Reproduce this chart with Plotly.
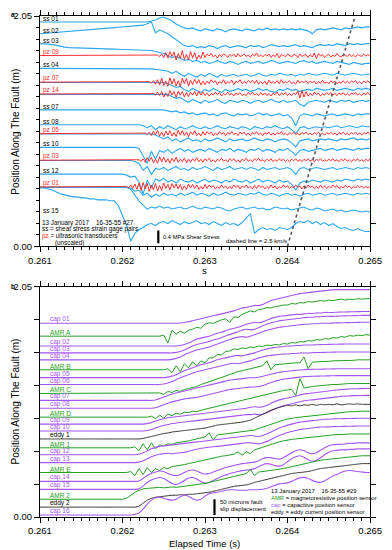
import numpy as np
import plotly.graph_objects as go

# ---------------- sampling clocks (ms) ----------------
T_SLOW_MS = np.linspace(261.0, 265.0, 81)    # 0.05 ms samples
T_FAST_MS = np.linspace(261.0, 265.0, 161)   # 0.025 ms samples (piezo)

UNIT_M = 0.0088          # plot metres per signal unit
MPA_PER_UNIT = 0.4 / 13  # shear-stress scale (panel a): 0.4 MPa bar = 13 units
UM_PER_UNIT = 50 / 16    # slip scale (panel b): 50 microns bar = 16 units
SS_BAR_MPA = 0.4
SLIP_BAR_UM = 50
WAVE_SPEED_KM_S = 2.5
WAVE_T0_S = 0.264

# ---------------- panel a : sensor positions (m) ----------------
SS_POS_M = {"ss 01": 1.997, "ss 02": 1.892, "ss 03": 1.804, "ss 04": 1.584,
            "ss 05": 1.458, "ss 06": 1.352, "ss 07": 1.214, "ss 08": 1.082,
            "ss 09": 1.000, "ss 10": 0.880, "ss 11": 0.763, "ss 12": 0.642,
            "ss 13": 0.525, "ss 14": 0.525, "ss 15": 0.519}
PZ_POS_M = {"pz 09": 1.698, "pz 07": 1.461, "pz 14": 1.355,
            "pz 05": 1.003, "pz 03": 0.766, "pz 01": 0.528}

# shear stress signals (units), 0.05 ms samples
SS01 = [0,0,0,0,0,0,0,0,0,0,
        0,0,0,0,0,0,0,0,0,0,
        0,0,0,0,0,0,0,1,2,4,
        5,3,1,-2,-4,-6,-7,-6,-8,-9,
        -7,-8,-9,-7,-8,-10,-8,-7,-8,-9,
        -7,-8,-9,-7,-8,-6,-8,-7,-8,-7,
        -8,-7,-8,-7,-8,-9,-12,-8,-7,-8,
        -7,-6,-7,-8,-6,-7,-6,-5,-6,-5,
        -5]
SS02 = [0,0.3,0.7,1,1.4,1.7,2,2.4,2.8,3.1,
        3.5,3.8,4.2,4.5,4.8,5.2,5.5,5.9,6.2,6.6,
        6.9,7.3,7.6,8,8.3,8.7,10,12,1,4,
        2,0,-3,-6,-9,-12,-13,-12,-14,-13,
        -14,-12,-13,-15,-13,-12,-14,-13,-12,-13,
        -14,-12,-13,-12,-14,-13,-11,-12,-13,-12,
        -13,-12,-11,-13,-12,-13,-14,-12,-11,-12,
        -11,-12,-10,-11,-12,-10,-11,-10,-11,-10,
        -10]
SS03 = [0,0,-0.5,-1,-2,-3,-3.5,-4,-4.2,-4.5,
        -4.6,-4.8,-5,-5,-5.2,-5.3,-5.5,-5.5,-5.6,-5.7,
        -5.8,-6,-6,-6.2,-6.3,-6.5,-6.6,-7,-8,-9,
        -10,-12,-14,-13,-15,-17,-16,-18,-17,-19,
        -18,-20,-19,-17,-19,-20,-18,-19,-21,-19,
        -18,-20,-19,-18,-20,-19,-17,-18,-20,-19,
        -18,-19,-20,-18,-17,-19,-18,-20,-19,-18,
        -19,-20,-18,-19,-20,-21,-19,-20,-21,-20,
        -20]
SS04 = [0,0,0,0,0,0,0,0,0,0,
        0,0,0,0,0,0,0,0,0,0,
        0,0,0,0,0,0,0,-0.5,-1,-1.5,
        -2,-3,-5,-3,-6,-8,-5,-7,-9,-6,
        -8,-5,-7,-9,-6,-8,-7,-6,-8,-7,
        -6,-8,-7,-5,-7,-8,-6,-7,-5,-6,
        -7,-6,-8,-6,-7,-5,-6,-7,-6,-5,
        -6,-7,-5,-6,-7,-6,-5,-6,-7,-6,
        -6]
SS05 = [0,0,0,0,0,0,0,0,0,0,
        0,0,0,0,0,0,0,0,0,0,
        0,0,0,0,0,0,0,0,0,0,
        0,-1,-3,-5,-4,-7,-9,-6,-8,-10,
        -7,-9,-6,-8,-10,-7,-9,-8,-6,-8,
        -7,-9,-8,-6,-8,-7,-9,-10,-7,-8,
        -6,-8,-7,-9,-8,-7,-8,-6,-7,-8,
        -7,-6,-8,-7,-6,-7,-8,-6,-7,-6,
        -7]
SS06 = [0,0,0,0,0,0,0,0,0,0,
        0,0,0,0,0,0,0,0,0,0,
        0,0,0,0,0,0,0,0,0,0,
        0,0,-2,-4,-3,-6,-8,-5,-7,-9,
        -6,-8,-7,-5,-8,-9,-6,-7,-8,-6,
        -7,-9,-7,-6,-8,-7,-5,-7,-8,-6,
        -8,-7,-6,-10,-12,-8,-7,-6,-7,-8,
        -6,-7,-8,-6,-7,-6,-8,-7,-6,-7,
        -6]
SS07 = [0,0,0,0,0,0,0,0,0,0,
        0,0,0,0,0,0,0,0,0,0,
        0,0,0,0,0,0,0,0,0,0,
        0,-1,-2,-1,-3,-2,-4,-3,-5,-4,
        -3,-5,-4,-6,-4,-3,-5,-6,-4,-5,
        -4,-6,-5,-3,-5,-4,-6,-5,-4,-6,
        -5,-8,-16,-6,-4,-5,-6,-4,-5,-6,
        -5,-4,-6,-5,-4,-5,-6,-4,-5,-4,
        -4]
SS08 = [0,0,0,0,0,0,0,0,0,0,
        0,0,0,0,0,0,0,0,0,0,
        0,0,0,0,0,-1,-3,-1,-5,-2,
        -4,-1,-3,-5,-2,-4,-3,-1,-3,-4,
        -2,-4,-3,-1,-3,-4,-2,-3,-4,-2,
        -3,-5,-2,-3,-4,-2,-3,-1,-3,-4,
        -2,-5,-9,-3,-2,-4,-3,-2,-3,-2,
        -3,-2,-1,-3,-2,-1,-2,-3,-1,-2,
        -2]
SS09 = [0,0,0,0,0,0,0,0,0,0,
        0,0,0,0,0,0,0,0,0,0,
        0,0,0,0,0,0,0,0,-1,-3,
        -5,-3,-7,-5,-8,-6,-4,-7,-6,-8,
        -5,-7,-6,-4,-6,-8,-5,-7,-6,-5,
        -7,-6,-4,-6,-7,-5,-6,-8,-6,-5,
        -6,-9,-13,-7,-6,-5,-7,-6,-5,-6,
        -5,-6,-7,-5,-6,-5,-4,-6,-5,-6,
        -5]
SS10 = [0,0,0,0,0,0,0,0,0,0,
        0,0,0,0,0,0,0,0,0,0,
        0,0,0,0,-1,-8,-16,-4,-12,-3,
        -5,-2,-6,-3,-1,-4,-2,-5,-3,-2,
        -4,-1,-3,-5,-2,-3,-1,-4,-2,-3,
        -5,-2,-3,-1,-4,-2,-3,-5,-2,-3,
        -1,-4,-8,-3,-2,-4,-3,-2,-1,-3,
        -2,-1,-3,-2,-1,-2,-3,-1,-2,-1,
        -1]
SS11 = [0,0,0,0,0,0,0,0,0,0,
        0,0,0,0,0,0,0,0,0,0,
        0,0,0,-1,-3,-10,-6,-14,-8,-9,
        -7,-10,-8,-6,-9,-8,-10,-7,-9,-8,
        -6,-8,-10,-7,-9,-8,-6,-9,-8,-7,
        -9,-7,-8,-10,-7,-9,-8,-7,-9,-8,
        -7,-9,-14,-8,-7,-9,-8,-7,-8,-9,
        -8,-7,-9,-8,-7,-8,-9,-7,-8,-7,
        -8]
SS12 = [0,0,0,0,0,0,0,0,0,0,
        0,0,0,0,0,0,0,0,0,0,
        0,-1,-3,-2,-8,-20,-6,-14,-5,-7,
        -4,-8,-6,-9,-5,-7,-8,-6,-9,-7,
        -5,-8,-6,-7,-9,-6,-8,-5,-7,-8,
        -6,-9,-7,-5,-8,-6,-7,-9,-6,-8,
        -7,-10,-16,-9,-7,-8,-6,-7,-8,-6,
        -7,-8,-6,-7,-5,-6,-7,-5,-6,-5,
        -6]
SS13 = [0,0,0,0,0,0,0,0,0,0,
        0,0,0,0,0,0,0,0,0,0,
        0,0,-1,-4,-3,-8,-6,-10,-7,-9,
        -6,-8,-7,-9,-6,-8,-7,-5,-8,-6,
        -7,-9,-6,-8,-7,-5,-7,-8,-6,-7,
        -8,-6,-7,-5,-7,-8,-6,-7,-9,-7,
        -6,-8,-7,-9,-7,-6,-8,-7,-6,-8,
        -7,-6,-8,-7,-6,-7,-8,-6,-7,-6,
        -7]
SS14 = [0,0,0,0,0,0,0,0,0,0,
        0,0,0,0,0,0,0,0,0,0,
        0,0,-2,-8,-14,-18,-22,-20,-21,-19,
        -21,-20,-22,-21,-20,-22,-21,-19,-21,-22,
        -20,-21,-22,-20,-21,-23,-24,-22,-21,-20,
        -22,-21,-20,-22,-21,-23,-22,-20,-21,-22,
        -21,-23,-22,-21,-20,-22,-23,-21,-22,-24,
        -23,-22,-24,-23,-25,-24,-23,-24,-25,-24,
        -25]
SS15 = [0,0,-1,-2,-4,-6,-7,-8,-9,-9,
        -10,-10,-11,-11,-12,-12,-12,-13,-13,-18,
        -28,-38,-54,-46,-42,-40,-37,-36,-38,-35,
        -34,-36,-33,-35,-37,-34,-36,-35,-33,-36,
        -35,-37,-34,-36,-38,-35,-37,-36,-38,-35,
        -30,-26,-46,-42,-40,-42,-41,-43,-40,-41,
        -42,-40,-36,-34,-35,-33,-36,-34,-37,-35,
        -38,-36,-39,-41,-40,-42,-43,-41,-43,-44,
        -44]

# piezo signals (unscaled units), 0.025 ms samples
PZ09 = [0,0,0,0,0,0,0,0,0,0, 0,0,0,0,0,0,0,0,0,0, 0,0,0,0,0,0,0,0,0,0,
        0,0,0,0,0,0,0,0,0,0, 0,0,0,0,0,0,0,0,0,0,
        0,0,0,0,0,0,0,0.5,-1,1.5,
        -2,3,-2.5,4,-1,3.5,-4.5,2,-3,5,
        -4,1,-4.5,4,-2.5,3,-4,0.5,-3,3.5,
        -2,1.5,-0.5,2,-1.5,0.5,-2.5,1,-1,1.5,
        0.5,-2,1,-0.5,1.5,-1.5,2,-1,0,1.5,
        -1,0.5,-2,1.5,-0.5,2.5,-1,0.5,-1.5,1,
        -0.5,1.5,-2,0.5,-1,2,-2.5,1,0,-1,
        1.5,-0.5,-1.5,1,0.5,-2,1.5,-1,0.5,1,
        -2,1,-1.5,2.5,-3,2,-0.5,1,-2,0.5,
        1,-1.5,0.5,-1,2,-0.5,-1.5,1,0.5,-1,
        1.5,-1,0.5,-1.5,1,0,-1,1.5,-0.5,1,
        -0.5]
PZ07 = [0,0,0,0,0,0,0,0,0,0, 0,0,0,0,0,0,0,0,0,0, 0,0,0,0,0,0,0,0,0,0,
        0,0,0,0,0,0,0,0,0,0, 0,0,0,0,0,0,0,0,0,0,
        0,0,0,0.5,-1,1.5,-2,2.5,-3,4,
        -3.5,1,-4,4.5,-2,3.5,-4,1.5,-4.5,4,
        -1.5,3.5,-4,2,-2.5,3,-1.5,2.5,-3,1,
        -2.5,1,-1.5,2.5,-0.5,1.5,-2.5,0.5,-1,2.5,
        -2,0.5,-1,2,-2.5,1,-0.5,2.5,-1.5,0.5,
        -1,1.5,-0.5,2,-1.5,2,-2,0.5,-1.5,1,
        -2.5,2,-1,0.5,-1,1.5,-1.5,2.5,-1,0.5,
        -0.5,1.5,-1.5,0,-2,2,-1,1,-0.5,1.5,
        -1.5,1,-0.5,1,-2,0.5,-1,2,-1,0,
        -1.5,1.5,-0.5,1,-1.5,0.5,-1,1.5,-1,1,
        -1,1,0,1.5,-1.5,0.5,-1.5,1,-0.5,1.5,
        -1]
PZ14 = [0,0,0,0,0,0,0,0,0,0, 0,0,0,0,0,0,0,0,0,0, 0,0,0,0,0,0,0,0,0,0,
        0,0,0,0,0,0,0,0,0,0, 0,0,0,0,0,0,0,0,0,0,
        0,0,0,0,0,0.5,-1,2,-1.5,2.5,
        -3,1,-2.5,3.5,-1,2.5,-3.5,3,-1,2.5,
        -3,1.5,-2.5,2,-1,2.5,-2,3,-1,2,
        -1.5,1,-2,0.5,-1,2,-0.5,1.5,-2,0.5,
        -1,2,-1,0.5,-2,1,-0.5,1.5,-1.5,0,
        -1.5,1.5,-0.5,2,-1,0.5,-1.5,1.5,-1,1,
        -1.5,0.5,-2,1,-0.5,2,-1.5,1,-0.5,1.5,
        -1.5,0.5,-1.5,1,-0.5,3,-4,3.5,-3,2.5,
        -2,1,-1.5,2,-0.5,1,-2,0.5,-1,1.5,
        -0.5,1.5,-1,0.5,-1.5,1,-0.5,1.5,-1,0.5,
        -1.5,1,-0.5,1.5,-1,0.5,-1.5,1,-0.5,1.5,
        -1]
PZ05 = [0,0,0,0,0,0,0,0,0,0, 0,0,0,0,0,0,0,0,0,0, 0,0,0,0,0,0,0,0,0,0,
        0,0,0,0,0,0,0,0,0,0, 0,0,0,0,0,0,0,0,0,0,
        0,0.5,-1,1.5,-2,2.5,-1,3,-2.5,1.5,
        -3,2.5,-1.5,3,-2.5,1,-3,3.5,-1.5,3,
        -2,1.5,-3,2,-1,3,-2,0.5,-2.5,2,
        -1.5,2,-0.5,1.5,-2,0.5,-1.5,2,-0.5,1,
        -2,1,-0.5,2,-1,0.5,-2,1.5,-0.5,1.5,
        -1.5,0.5,-2,1,-0.5,2,-1,0.5,-2,1,
        -0.5,1.5,-1.5,0.5,-1.5,1,-0.5,2,-1,0.5,
        -1.5,1,-0.5,1.5,-1,0.5,-1.5,1,-0.5,1.5,
        -1,0.5,-1.5,1,-0.5,1.5,-1,0.5,-1.5,1,
        -0.5,1.5,-1,0.5,-1.5,1,-0.5,1.5,-1,0.5,
        -1.5,1,-0.5,1.5,-1,0.5,-1.5,1,-0.5,1.5,
        -1]
PZ03 = [0,0,0,0,0,0,0,0,0,0, 0,0,0,0,0,0,0,0,0,0, 0,0,0,0,0,0,0,0,0,0,
        0,0,0,0,0,0,0,0,0,0,
        0,0,0,0,0,0,0,0,0.5,-1,
        1.5,-2,2.5,-1,3,-2.5,1,-3,3.5,-1.5,
        3,-2,1.5,-3,2,-1.5,3,-2,1,-1.5,
        2,-2.5,1,-2,1.5,-1,2.5,-1.5,1,-2,
        1.5,-0.5,2,-1.5,0.5,-2,1,-0.5,2,-1,
        0.5,-2,1.5,-0.5,1.5,-1.5,0.5,-2,1,-0.5,
        2,-1,0.5,-1.5,1.5,-0.5,2,-1,0.5,-1.5,
        1,-0.5,1.5,-1.5,0.5,-1,1.5,-0.5,1,-1.5,
        0.5,-1.5,1,-0.5,1.5,-1,0.5,-1.5,1,-0.5,
        1.5,-1,0.5,-1.5,1,-0.5,1.5,-1,0.5,-1,
        1,-0.5,1.5,-1,0.5,-1.5,1,-0.5,1.5,-1,
        0.5,-1.5,1,-0.5,1.5,-1,0.5,-1.5,1,-0.5,
        1]
PZ01 = [0,0,0,0,0,0,0,0,0,0, 0,0,0,0,0,0,0,0,0,0, 0,0,0,0,0,0,0,0,0,0,
        0,0,0,0,0,0,0,0,0,0,
        0,0,0.5,-1,2,-1.5,3,-2.5,4,-3.5,
        4.5,-2,3.5,-4.5,2,-3,3.5,-4,1.5,-3.5,
        4,-1.5,2.5,-3,3.5,-1,3,-2,2.5,-3,
        1,-2.5,3,-1,2.5,-1.5,2,-2.5,0.5,-2,
        2.5,-1.5,2,-0.5,1.5,-2,0.5,-1.5,2,-1,
        1,-2,0.5,-1.5,2,-0.5,1.5,-2,1,-0.5,
        2,-1,0.5,-2,1.5,-1.5,2,-0.5,1,-2,
        0.5,-1.5,2,-1,1,-2,0.5,-1,2,-0.5,
        1.5,-1.5,0.5,-1,2,-0.5,1,-2,1,-1,
        2,-0.5,1,-1.5,0.5,-1.5,2,-1,1,-1.5,
        0.5,-1,2,-0.5,1.5,-1.5,0.5,-1,1.5,-0.5,
        1,-1.5,0.5,-1,1.5,-0.5,1,-1.5,0.5,-1,
        0.5]

SS_SERIES = {"ss 01": SS01, "ss 02": SS02, "ss 03": SS03, "ss 04": SS04, "ss 05": SS05,
             "ss 06": SS06, "ss 07": SS07, "ss 08": SS08, "ss 09": SS09, "ss 10": SS10,
             "ss 11": SS11, "ss 12": SS12, "ss 13": SS13, "ss 14": SS14, "ss 15": SS15}
PZ_SERIES = {"pz 09": PZ09, "pz 07": PZ07, "pz 14": PZ14, "pz 05": PZ05, "pz 03": PZ03, "pz 01": PZ01}
A_LABELS = ["ss 01", "ss 02", "ss 03", "pz 09", "ss 04", "pz 07", "pz 14", "ss 07",
            "ss 08", "pz 05", "ss 10", "pz 03", "ss 12", "pz 01"]
SS15_LABEL_M = 0.28

# ---------------- panel b : sensor positions (m) ----------------
B_POS_M = {"cap 01": 1.725, "AMR A": 1.610, "cap 02": 1.522, "cap 03": 1.461, "cap 04": 1.399,
           "AMR B": 1.311, "cap 05": 1.241, "cap 06": 1.179, "AMR C": 1.100, "cap 07": 1.038,
           "cap 08": 0.968, "AMR D": 0.889, "cap 09": 0.827, "cap 10": 0.766, "eddy 1": 0.695,
           "AMR 1": 0.616, "cap 12": 0.554, "cap 13": 0.484, "AMR E": 0.396, "cap 14": 0.317,
           "cap 15": 0.246, "AMR 2": 0.158, "eddy 2": 0.088, "cap 16": 0.018}

# slip displacement signals (units), 0.05 ms samples
CAP01 = [0,0,0,0,0,0,0,0,0,0, 0,0,0,0,0,0,0,0,0,0, 0,0,0,0,0,0,0,0,0,0,
         0,0,0,0,0.3,0.8,1.5,2.5,3.5,4.5,
         5.5,6.5,7.5,8.5,9.5,10.5,11.5,12.5,14,15.5,
         16,17,18,18,19,21,23,24,25,26,
         27,28,29,30,30.5,31,31.5,32,32.5,33,
         33.5,33.8,34,34,34,34,34,34,34,34,
         34]
AMRA = [0,0,0,0,0,0,0,0,0,0, 0,0,0,0,0,0,0,0,0,0, 0,0,0,0,0,0,0,0,0,0,
        1,-7,6,2,5,3,6,7,9,8,
        12,13.5,13,15,16.5,17.5,14,19.5,19,22,
        24,25.5,24.5,27,27.5,29,28.5,30,30.5,31.5,
        31.5,33,32.5,34,33.5,35,34.5,35.5,36,35.5,
        36.5,36,37,37.5,36.5,37.5,37,38,37.5,38,
        38]
CAP02 = [0,0,0,0,0,0,0,0,0,0, 0,0,0,0,0,0,0,0,0,0, 0,0,0,0,0,0,0,0,0,0,
         0,0,0,0,0.5,1.5,3,5,7,8,
         9,10,11.5,13,14,15.5,17,18,19,20.5,
         22,23,24,23.5,24.5,26,28,29,30,30.5,
         31,31.5,32,32,32.5,33,33,33.5,33.5,34,
         34,34,34.2,34.4,34.5,34.6,34.7,34.8,34.9,35,
         35]
CAP03 = [0,0,0,0,0,0,0,0,0,0, 0,0,0,0,0,0,0,0,0,0, 0,0,0,0,0,0,0,0,0,0,
         0,0,0,0.5,1.5,3,5,7,8.5,9.5,
         10.5,11.5,13,14,15.5,17,18.5,20,21.5,23,
         24,23.5,24,25.5,27.5,29,30.5,31.5,32.5,33,
         33.5,34,34.5,35,35.5,36,36,36.5,36.5,37,
         37,37,37.2,37.4,37.5,37.6,37.7,37.8,37.9,38,
         38]
CAP04 = [0,0,0,0,0,0,0,0,0,0, 0,0,0,0,0,0,0,0,0,0, 0,0,0,0,0,0,0,0,0,0,
         0,0,0.5,1.5,3,5,7,8.5,10,11,
         12,13,14.5,16,17.5,19,20.5,22,23,23.5,
         23,24,25.5,27,28.5,30,31,32,33,33.5,
         34,34.5,35,35.5,36,36,36.5,36.5,37,37,
         37,37.2,37.4,37.5,37.6,37.7,37.8,37.9,38,38,
         38]
AMRB = [0,0,0,0,0,0,0,0,0,0, 0,0,0,0,0,0,0,0,0,0, 0,0,0,0,0,0,0,0,0,0,
        0,1,-3,4,-2,6,2,8,4,9,
        7,12,12,15.5,15,18.5,19,21,20.5,22,
        21.5,23,22.5,24,23.5,25,24.5,25.5,25,26.5,
        26,27.5,27,28.5,28,29.5,29,30.5,30,31.5,
        31,32.5,32,33.5,33,34.5,34,35,34.5,35.5,
        35]
CAP05 = [0,0,0,0,0,0,0,0,0,0, 0,0,0,0,0,0,0,0,0,0, 0,0,0,0,0,0,0,0,0,0,
         0,0.5,1.5,3,5,7,8.5,10,11.5,13,
         14,15,16.5,18,19,20,21,22,22.5,22,
         23,24,25,26.5,28,29,30,30.5,31,31.5,
         32,32,32.5,32.5,33,33,33,33.2,33.4,33.5,
         33.6,33.7,33.8,33.9,34,34,34,34,34,34,
         34]
CAP06 = [0,0,0,0,0,0,0,0,0,0, 0,0,0,0,0,0,0,0,0,0, 0,0,0,0,0,0,0,0,0,0,
         0.5,1.5,3,5,7,8.5,10,11.5,13,14,
         15,16,17,18,19,20,21,21.5,21,22,
         23,24,25.5,27,28,29,29.5,30,30.5,31,
         31,31.5,31.5,32,32,32,32.2,32.4,32.5,32.6,
         32.7,32.8,32.9,33,33,33,33,33,33,33,
         33]
AMRC = [0,0,0,0,0,0,0,0,0,0, 0,0,0,0,0,0,0,0,0,0,
        0,0,0,0,0,0,0,0,0,0.5,
        -1,2,1,3,2,4,5,6,7,9,
        10.5,12,13.5,15,16.5,18,19,20.5,22,23,
        24,25,26,27,28,33,24,29,29.5,30,
        30,30.5,31,31,37,25,31.5,32,32,32.5,
        32.5,33,33,33,33.5,33.5,33.5,34,34,34,
        34]
CAP07 = [0,0,0,0,0,0,0,0,0,0, 0,0,0,0,0,0,0,0,0,0,
         0,0,0,0,0,0,0,0,0.5,2,
         3.5,5,6.5,7.5,8.5,9.5,10.5,11.5,12.5,13.5,
         14.5,15.5,16.5,17.5,18.5,19.5,20.5,21,21.5,22,
         22.5,23,23,23.5,24.5,25.5,26.5,27.5,28.5,29,
         29.5,30,30.5,30.8,31,31.2,31.4,31.5,31.6,31.7,
         31.8,31.9,32,32,32,32,32,32,32,32,
         32]
CAP08 = [0,0,0,0,0,0,0,0,0,0, 0,0,0,0,0,0,0,0,0,0,
         0,0,0,0,0,0,0,0,0.5,2,
         3.5,5,6.5,7.5,8.5,9.5,10,10.5,11,12,
         13,14,15,16,17,18,19,19.5,20,20.5,
         21,21.5,21.5,22,23,24.5,26,27.5,28.5,29.5,
         30,30.5,31,31.5,32,32.2,32.4,32.5,32.6,32.7,
         32.8,32.9,33,33,33,33,33,33,33,33,
         33]
AMRD = [0,0,0,0,0,0,0,0,0,0, 0,0,0,0,0,0,0,0,0,0,
        0,0,0,0,0,0,0,1,-1.5,2,
        -1,3,1.5,4,3,5,4.5,6,5.5,7,
        8,9.5,10,11.5,12,13.5,14,15.5,16,17.5,
        18,19,20,21,22,23,24,25,26,27,
        27.5,28,22,39,29.5,30.5,31,31.5,32,32.5,
        32.5,33,33,33.5,33.5,34,34,34,34,34,
        34]
CAP09 = [0,0,0,0,0,0,0,0,0,0, 0,0,0,0,0,0,0,0,0,0,
         0,0,0,0,0,0,0.5,1.5,3,4.5,
         5.5,6.5,7,7.5,8,8.5,9,9.5,10,10.5,
         11,11.5,12,12.5,13,13.5,14,14.5,15,15.5,
         16,17,17.5,17,17.5,19,21,23,24.5,25.5,
         26.5,27.5,28.5,29.5,30.5,31,31.5,32,32.5,33,
         33.5,34,34.5,35,35.2,35.5,35.7,35.8,35.9,36,
         36]
CAP10 = [0,0,0,0,0,0,0,0,0,0, 0,0,0,0,0,0,0,0,0,0,
         0,0,0,0,0,0,0.5,1.5,3,4.5,
         5.5,6.5,7.5,8,8.5,9,9.5,10,10.5,11,
         11.5,12,12.5,13,13.5,14,14.5,15,15.5,16,
         16.5,16.5,17,16.5,17,18.5,20.5,22.5,24,25.5,
         26.5,27.5,28.5,29.5,30.5,31,31.5,32,32.5,33,
         33.5,34,34.5,35,35.2,35.5,35.7,35.8,35.9,36,
         36]
EDDY1 = [0,0,0,0,0,0,0,0,0,0, 0,0,0,0,0,0,0,0,0,0,
         0,0,0,0,0,0.5,1.5,2.5,3.5,4.5,
         5.5,6,7,7.5,8,8.5,9,9.5,10,10.5,
         11,12,13,14,14.5,15,15.5,16,16.5,17,
         18,19,21,23,25,27,29,30.5,32,33,
         34,33.5,34.5,33.5,34.5,34,35,34,35,34.5,
         35,34.5,35.5,34.5,35,35.5,35,35.5,35,35,
         35]
AMR1 = [0,0,0,0,0,0,0,0,0,0, 0,0,0,0,0,0,0,0,0,0,
        0,0,0,1,-3,4,-2,5,-1,3,
        2,4,3.5,5,5.5,6,7,8,9,10,
        11,15,8,13,13.5,14,14.5,15,15.5,16,
        16.5,17,18,19.5,21,22.5,24,25.5,27,28,
        29,30,30.5,31,31.5,32,32.5,33,33.5,34,
        34.5,35,35.5,36,36,36.5,36.5,37,37,37,
        37]
CAP12 = [0,0,0,0,0,0,0,0,0,0, 0,0,0,0,0,0,0,0,0,0,
         0,0,0,0,0.5,2,4,6,7.5,8.5,
         9,9.5,10,10.5,11,11.5,12,12.5,13,13.5,
         14,14.5,15,15.5,16,16.5,17,17.5,18,18.5,
         19,19.5,19,18.5,19.5,21,23,25,27,28.5,
         30,31,32,33,33.5,34,34.5,35,35.5,36,
         36,36.2,36.4,36.5,36.6,36.7,36.8,36.9,37,37,
         37]
CAP13 = [0,0,0,0,0,0,0,0,0,0, 0,0,0,0,0,0,0,0,0,0,
         0,0,0,0,0.5,2,4,6,7.5,8.5,
         9,9.5,9,9.5,10,10.5,11.5,12.5,13.5,14.5,
         15,15.5,16,16.5,17,17.5,18,18.5,19,19.5,
         20,20,19.5,19,20,21.5,23.5,25.5,27.5,29,
         30.5,31.5,32.5,33.5,34,34.5,35,35.5,36,36,
         36.2,36.4,36.5,36.6,36.7,36.8,36.9,37,37,37,
         37]
AMRE = [0,0,0,0,0,0,0,0,0,0, 0,0,0,0,0,0,0,0,0,0,
        0,0,1,-3,4,-2,5,0,4,2,
        5,4,6,6.5,7,8,9,10,11,12,
        13,14,15,15.5,16.5,17,18,18.5,21,17.5,
        21,19,23,24,25.5,27,28.5,30,31,32,
        33,33.5,34,34.5,35,35.5,36,36.5,37,37.5,
        38,38,38.5,38.5,39,39,39,39,39,39,
        39]
CAP14 = [0,0,0,0,0,0,0,0,0,0, 0,0,0,0,0,0,0,0,0,0,
         0,0,0,0,0.5,3,6,8,9.5,10.5,
         10,8,6.5,6,7,9,11,11.5,10.5,8.5,
         7.5,8,9.5,11,12.5,14,15,16,17,18,
         18.5,19,19.5,21,23,24,24,23,22.5,24,
         26.5,29,31,32,31,29,28,29,31.5,34,
         36,37,37.5,37.5,38,38.5,38.5,39,39,39,
         39]
CAP15 = [0,0,0,0,0,0,0,0,0,0, 0,0,0,0,0,0,0,0,0,0,
         0,0,0,0,0.5,3.5,7,9.5,11,12,
         11,8.5,6,5,6.5,9,11.5,12,10.5,8,
         6.5,7,9,11,13,14.5,16,17,18,19,
         19.5,20,21,23,25,26,25.5,24,23.5,25,
         28,31,33,34,32.5,30,28.5,29.5,32,35,
         37.5,39,39.5,40,40,40.5,40.5,41,41,41,
         41]
AMR2 = [0,0,0,0,0,0,0,0,0,0, 0,0,0,0,0,0,0,0,0,0,
        0,1,4,7,9,10.5,11,11.5,11.5,12,
        11.5,12,12.5,12,12.5,13,13.5,14,14.5,15,
        16,17,18,19,20,21,22,23,24,25,
        26,30,24,27.5,28,28.5,29,29.5,30,31,
        32,33,34,35,36,37,38,39,39.5,40,
        40.5,41,41.5,42,42.5,43,43.5,44,44,44,
        44]
EDDY2 = [0,0,0,0,0,0,0,0,0,0, 0,0,0,0,0,0,0,0,0,0,
         0,0,0,0,1,4,7,9,10,10.5,
         11,11.5,12,12,12.5,12.5,13,13,13.5,14,
         14.5,15,16,17,18,19,20,21,21.5,22,
         22.5,23.5,25,26,27,28,29,30,31,32,
         33,34,34.5,35,35.5,36,37,38,39,39.5,
         40,40.5,41,41.5,42,42.5,43,43.5,44,44,
         44]
CAP16 = [0,0,0,0,0,0,0,0,0,0, 0,0,0,0,0,0,0,0,0,0,
         0,0,0,0.5,2,6,11,15,17.5,18,
         17,15.5,15,16,18.5,20,19,16.5,15,16,
         19,21.5,22.5,23,24,25,25.5,25.5,25,25,
         25,25.5,25.5,25.5,26,27,28.5,30,31.5,32,
         32.5,34,36,37.5,38,37,35,33.5,33,34.5,
         37,39.5,41,43,44.5,45,44.5,44,43.5,43,
         43]

B_SERIES = {"cap 01": CAP01, "AMR A": AMRA, "cap 02": CAP02, "cap 03": CAP03, "cap 04": CAP04,
            "AMR B": AMRB, "cap 05": CAP05, "cap 06": CAP06, "AMR C": AMRC, "cap 07": CAP07,
            "cap 08": CAP08, "AMR D": AMRD, "cap 09": CAP09, "cap 10": CAP10, "eddy 1": EDDY1,
            "AMR 1": AMR1, "cap 12": CAP12, "cap 13": CAP13, "AMR E": AMRE, "cap 14": CAP14,
            "cap 15": CAP15, "AMR 2": AMR2, "eddy 2": EDDY2, "cap 16": CAP16}

# ---------------- styles ----------------
BLUE = "#2ba6f0"
RED = "#ff1c1c"
PURPLE = "#a455f7"
GREEN = "#23a023"
DARK = "#333333"
FONT = "Liberation Sans, Arial, Helvetica, sans-serif"


def xy(t_ms, vals, base_m):
    n = min(len(t_ms), len(vals))
    t = np.asarray(t_ms[len(t_ms) - n:]) / 1000.0
    v = np.asarray(vals[len(vals) - n:], dtype=float)
    return t, base_m + v * UNIT_M


fig = go.Figure()

# panel a traces
for name, vals in SS_SERIES.items():
    x, y = xy(T_SLOW_MS, vals, SS_POS_M[name])
    fig.add_trace(go.Scatter(x=x, y=y, mode="lines", line=dict(color=BLUE, width=1.1),
                             xaxis="x", yaxis="y", hoverinfo="skip", name=name))
for name, vals in PZ_SERIES.items():
    x, y = xy(T_FAST_MS, vals, PZ_POS_M[name])
    fig.add_trace(go.Scatter(x=x, y=y, mode="lines", line=dict(color=RED, width=0.9),
                             xaxis="x", yaxis="y", hoverinfo="skip", name=name))
# 2.5 km/s reference line
wave_x = [WAVE_T0_S, WAVE_T0_S + 2.05 / (WAVE_SPEED_KM_S * 1000)]
fig.add_trace(go.Scatter(x=wave_x, y=[0, 2.05], mode="lines",
                         line=dict(color="#555555", width=1.6, dash="dot"),
                         xaxis="x", yaxis="y", hoverinfo="skip"))
fig.add_trace(go.Scatter(x=[], y=[], xaxis="x", yaxis="y3", hoverinfo="skip"))

# panel b traces
for name, vals in B_SERIES.items():
    x, y = xy(T_SLOW_MS, vals, B_POS_M[name])
    if name.startswith("cap"):
        line = dict(color=PURPLE, width=1.1, shape="spline", smoothing=0.8)
    elif name.startswith("AMR"):
        line = dict(color=GREEN, width=1)
    else:
        line = dict(color=DARK, width=1, shape="spline", smoothing=0.6)
    fig.add_trace(go.Scatter(x=x, y=y, mode="lines", line=line,
                             xaxis="x2", yaxis="y2", hoverinfo="skip", name=name))

# scale bars
ss_bar_len = SS_BAR_MPA / MPA_PER_UNIT * UNIT_M
slip_bar_len = SLIP_BAR_UM / UM_PER_UNIT * UNIT_M
fig.add_shape(type="line", xref="x", yref="y", x0=0.262434, x1=0.262434,
              y0=0.026, y1=0.026 + ss_bar_len, line=dict(color="black", width=2.2))
fig.add_shape(type="line", xref="x2", yref="y2", x0=0.263115, x1=0.263115,
              y0=0.018, y1=0.018 + slip_bar_len, line=dict(color="black", width=2.2))

# ---------------- annotations ----------------
def P(xp, yp):
    return (xp - 40) / 332.0, (517 - yp) / 507.0

ann = []

def txt(text, xp, yp, size=6.3, color="black", xanchor="left", yanchor="middle", angle=0, bold=False):
    px, py = P(xp, yp)
    if bold:
        text = "<b>" + text + "</b>"
    ann.append(dict(text=text, x=px, y=py, xref="paper", yref="paper", showarrow=False,
                    xanchor=xanchor, yanchor=yanchor, textangle=angle,
                    font=dict(size=size, color=color, family=FONT)))

# trace labels
for name in A_LABELS:
    pos = SS_POS_M.get(name, PZ_POS_M.get(name))
    col = RED if name.startswith("pz") else "black"
    ann.append(dict(text=name, x=0.261025, y=pos, xref="x", yref="y", showarrow=False,
                    xanchor="left", yanchor="bottom", borderpad=0, yshift=-1,
                    font=dict(size=6.5, color=col, family=FONT)))
ann.append(dict(text="ss 15", x=0.261025, y=SS15_LABEL_M, xref="x", yref="y", showarrow=False,
                xanchor="left", yanchor="bottom", borderpad=0,
                font=dict(size=6.5, color="black", family=FONT)))
for name in B_SERIES:
    col = PURPLE if name.startswith("cap") else (GREEN if name.startswith("AMR") else "black")
    ann.append(dict(text=name, x=0.26111, y=B_POS_M[name], xref="x2", yref="y2", showarrow=False,
                    xanchor="left", yanchor="bottom", borderpad=0, yshift=-1,
                    font=dict(size=6.5, color=col, family=FONT)))

NB = "\u00a0"
txt("a", 9, 8, size=6.5, xanchor="left", bold=True)
txt("b", 9, 284, size=6.5, xanchor="left", bold=True)
txt("Position Along The Fault (m)", 15, 127, size=10, xanchor="center", angle=-90)
txt("Position Along The Fault (m)", 15, 400, size=10, xanchor="center", angle=-90)
txt("s", 205, 268, size=9.5, xanchor="center")
txt("Elapsed Time (s)", 205, 544, size=9.5, xanchor="center")

txt("13 January 2017" + NB * 4 + "16-35-55 #27", 40, 219)
txt("ss = shear stress strain gage pairs", 40, 226)
txt("<span style='color:%s'>pz</span> = ultrasonic transducers" % RED, 40, 233)
txt("(unscaled)", 53, 240)
txt("0.4 MPa Shear Stress", 162, 234, size=5.8)
txt("dashed line = 2.5 km/s", 225, 237, size=6.1)

txt("13 January 2017" + NB * 4 + "16-35-55 #29", 270, 491, size=5.9)
txt("<span style='color:%s'>AMR</span> = magnetoresistive position sensor" % GREEN, 270, 498, size=5.9)
txt("<span style='color:%s'>cap</span> = capacitive position sensor" % PURPLE, 270, 505, size=5.9)
txt("eddy = eddy current position sensor", 270, 512, size=5.9)
txt("50 microns fault", 219, 502, size=6)
txt("slip displacement", 219, 509, size=6)

# ---------------- axes ----------------
XT = [0.261, 0.2615, 0.262, 0.2625, 0.263, 0.2635, 0.264, 0.2645, 0.265]
XT_TEXT = ["0.261", "", "0.262", "", "0.263", "", "0.264", "", NB * 3 + "0.265" + NB + "s"]
X_MINOR = [round(0.261 + 0.0001 * k, 4) for k in range(41)]
YA_T = [0, 0.5125, 1.025, 1.5375, 2.05]
YA_TEXT = ["0.00", "", "", "", "2.05"]
YA_MINOR = [round(0.1025 * k, 4) for k in range(21)]
YA_RIGHT = [0.205, 0.615, 1.025, 1.435, 1.845]
YB_T = [2.05 * k / 7 for k in range(8)]
YB_TEXT = ["0.00", "", "", "", "", "", "", "2.05"]

xcommon = dict(range=[0.261, 0.265], tickmode="array", tickvals=XT, ticktext=XT_TEXT,
               ticks="outside", ticklen=5, tickwidth=1, tickcolor="black",
               minor=dict(tickmode="array", tickvals=X_MINOR, ticks="outside", ticklen=3,
                          tickwidth=1, tickcolor="black", showgrid=False),
               showline=True, linecolor="black", linewidth=1, mirror="ticks",
               showgrid=False, zeroline=False, tickfont=dict(size=9.5, family=FONT, color="black"))

# page body has an 8 px margin: the figure is sized so its plot area lands at
# x 40..372 and y 10..517 of the 392x550 window
fig.update_layout(
    width=384, height=542,
    margin=dict(l=32, r=20, t=2, b=33),
    paper_bgcolor="white", plot_bgcolor="white",
    showlegend=False,
    font=dict(family=FONT, size=9.5, color="black"),
    xaxis=dict(domain=[0, 1], anchor="y", **xcommon),
    xaxis2=dict(domain=[0, 1], anchor="y2", **xcommon),
    yaxis=dict(domain=[0.5404, 1], anchor="x", range=[0, 2.05], tickmode="array",
               tickvals=YA_T, ticktext=YA_TEXT, ticks="outside", ticklen=5, tickwidth=1,
               tickcolor="black",
               minor=dict(tickmode="array", tickvals=YA_MINOR, ticks="outside", ticklen=3,
                          tickcolor="black", showgrid=False),
               showline=True, linecolor="black", linewidth=1, mirror=True,
               showgrid=False, zeroline=False, tickfont=dict(size=9.5, family=FONT, color="black")),
    yaxis3=dict(overlaying="y", anchor="x", side="right", range=[0, 2.05], tickmode="array",
                tickvals=YA_RIGHT, ticks="outside", ticklen=5, tickcolor="black",
                showticklabels=False, showline=False, showgrid=False, zeroline=False),
    yaxis2=dict(domain=[0, 0.4596], anchor="x2", range=[0, 2.05], tickmode="array",
                tickvals=YB_T, ticktext=YB_TEXT, ticks="outside", ticklen=5, tickwidth=1,
                tickcolor="black", showline=True, linecolor="black", linewidth=1, mirror="ticks",
                showgrid=False, zeroline=False, tickfont=dict(size=9.5, family=FONT, color="black")),
    annotations=ann,
)

fig.write_html("out.html")
